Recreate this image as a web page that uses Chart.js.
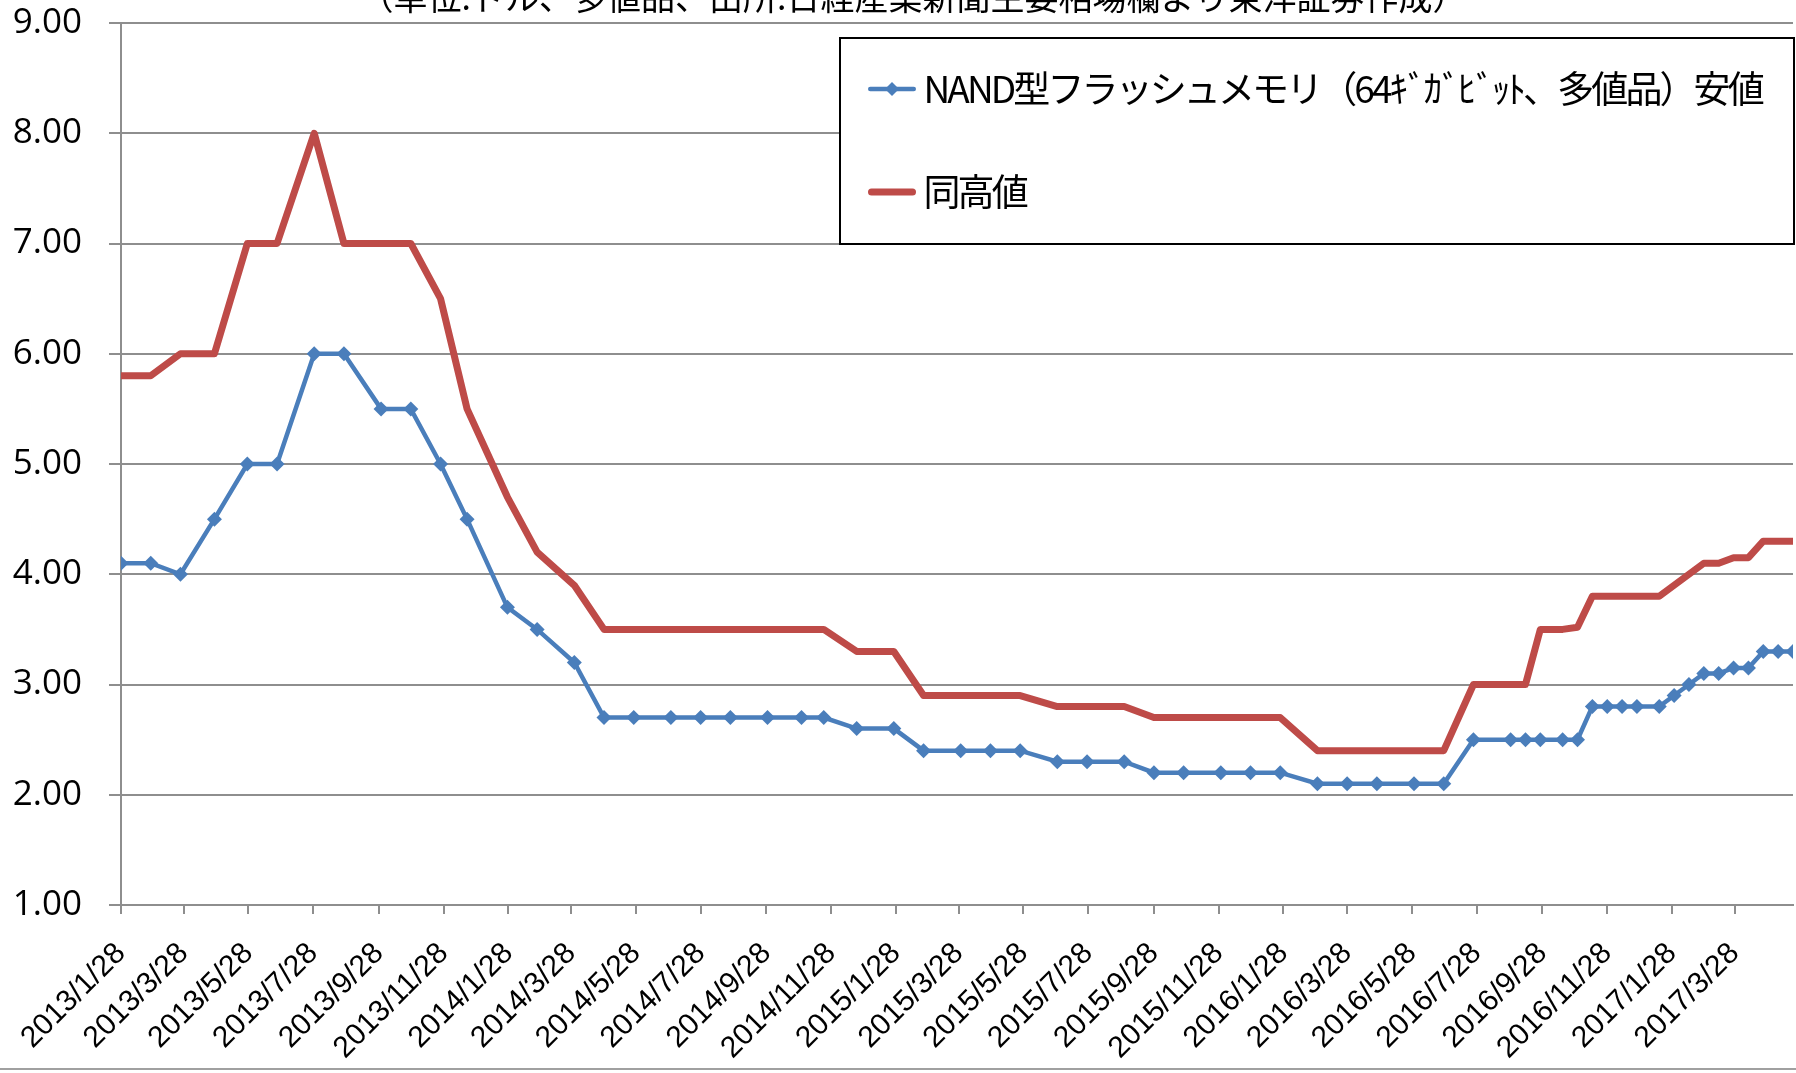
<!DOCTYPE html>
<html lang="ja">
<head>
<meta charset="UTF-8">
<title>NAND型フラッシュメモリ価格</title>
<script src="https://cdn.jsdelivr.net/npm/chart.js@4.4.1/dist/chart.umd.min.js"></script>
<style>
  html, body { margin: 0; padding: 0; background: #fff; }
  #wrap { width: 1796px; height: 1073px; }
</style>
</head>
<body>
<div id="wrap"><canvas id="nandChart" width="1796" height="1073"></canvas></div>
<script>
// 掲載日
const dates = [
  '2013/1/28', '2013/2/25', '2013/3/25', '2013/4/26', '2013/5/27', '2013/6/24',
  '2013/7/29', '2013/8/26', '2013/9/30', '2013/10/28', '2013/11/25', '2013/12/20',
  '2014/1/27', '2014/2/24', '2014/3/31', '2014/4/28', '2014/5/26', '2014/6/30',
  '2014/7/28', '2014/8/25', '2014/9/29', '2014/10/31', '2014/11/21', '2014/12/22',
  '2015/1/26', '2015/2/23', '2015/3/30', '2015/4/27', '2015/5/25', '2015/6/29',
  '2015/7/27', '2015/8/31', '2015/9/28', '2015/10/26', '2015/11/30', '2015/12/28',
  '2016/1/25', '2016/2/29', '2016/3/28', '2016/4/25', '2016/5/30', '2016/6/27',
  '2016/7/25', '2016/8/29', '2016/9/12', '2016/9/26', '2016/10/17', '2016/10/31',
  '2016/11/14', '2016/11/28', '2016/12/12', '2016/12/26',
  '2017/1/16', '2017/1/30', '2017/2/13', '2017/2/27', '2017/3/13', '2017/3/27',
  '2017/4/10', '2017/4/24', '2017/5/8', '2017/5/22'
];

// 安値（ドル）
const lowPrice = [
  4.1, 4.1, 4.0, 4.5, 5.0, 5.0, 6.0, 6.0, 5.5, 5.5, 5.0, 4.5,
  3.7, 3.5, 3.2, 2.7, 2.7, 2.7, 2.7, 2.7, 2.7, 2.7, 2.7, 2.6,
  2.6, 2.4, 2.4, 2.4, 2.4, 2.3, 2.3, 2.3, 2.2, 2.2, 2.2, 2.2,
  2.2, 2.1, 2.1, 2.1, 2.1, 2.1, 2.5, 2.5, 2.5, 2.5, 2.5, 2.5,
  2.8, 2.8, 2.8, 2.8,
  2.8, 2.9, 3.0, 3.1, 3.1, 3.15, 3.15, 3.3, 3.3, 3.3
];

// 高値（ドル）
const highPrice = [
  5.8, 5.8, 6.0, 6.0, 7.0, 7.0, 8.0, 7.0, 7.0, 7.0, 6.5, 5.5,
  4.7, 4.2, 3.9, 3.5, 3.5, 3.5, 3.5, 3.5, 3.5, 3.5, 3.5, 3.3,
  3.3, 2.9, 2.9, 2.9, 2.9, 2.8, 2.8, 2.8, 2.7, 2.7, 2.7, 2.7,
  2.7, 2.4, 2.4, 2.4, 2.4, 2.4, 3.0, 3.0, 3.0, 3.5, 3.5, 3.52,
  3.8, 3.8, 3.8, 3.8,
  3.8, 3.9, 4.0, 4.1, 4.1, 4.15, 4.15, 4.3, 4.3, 4.3
];

// 横軸の目盛（2か月ごと）
const tickDates = [
  '2013/1/28', '2013/3/28', '2013/5/28', '2013/7/28', '2013/9/28', '2013/11/28',
  '2014/1/28', '2014/3/28', '2014/5/28', '2014/7/28', '2014/9/28', '2014/11/28',
  '2015/1/28', '2015/3/28', '2015/5/28', '2015/7/28', '2015/9/28', '2015/11/28',
  '2016/1/28', '2016/3/28', '2016/5/28', '2016/7/28', '2016/9/28', '2016/11/28',
  '2017/1/28', '2017/3/28'
];

const seriesNames = ['NAND型フラッシュメモリ（64ｷﾞｶﾞﾋﾞｯﾄ、多値品）安値', '同高値'];
const titleText = '（単位:ドル、多値品、出所:日経産業新聞主要相場欄より東洋証券作成）';

const BLUE = '#4a7ebb';
const RED = '#be4b48';
const GRID = '#8e8e8e';

// 日付 -> 2013/1/28 からの日数
function toDay(s) {
  const [y, m, d] = s.split('/').map(Number);
  return (Date.UTC(y, m - 1, d) - Date.UTC(2013, 0, 28)) / 86400000;
}

// 凡例の記号（線＋マーカー）
function legendSymbol(color, lineW, marker) {
  const c = document.createElement('canvas');
  c.width = 48;
  c.height = 18;
  const g = c.getContext('2d');
  g.strokeStyle = color;
  g.lineWidth = lineW;
  g.lineCap = 'round';
  g.beginPath();
  g.moveTo(lineW / 2, 9);
  g.lineTo(48 - lineW / 2, 9);
  g.stroke();
  if (marker) {
    g.fillStyle = color;
    g.beginPath();
    g.moveTo(24, 2);
    g.lineTo(31, 9);
    g.lineTo(24, 16);
    g.lineTo(17, 9);
    g.closePath();
    g.fill();
  }
  return c;
}
const symbols = [legendSymbol(BLUE, 4.5, true), legendSymbol(RED, 7, false)];

const legendFrame = { left: 840, top: 38, right: 1794, bottom: 244 };

// 凡例をグラフ内の枠に配置し、枠ごと最前面に描く
const legendPlacer = {
  id: 'legendPlacer',
  beforeDraw(chart) {
    const lg = chart.legend;
    const pad = lg.options.labels.padding;
    const fs = lg.options.labels.font.size;
    lg.left = 892 - 13 - pad;
    lg.top = 89 - fs / 2 - pad;
    lg.right = legendFrame.right;
    lg.bottom = chart.chartArea.bottom;
  },
  afterDraw(chart) {
    const ctx = chart.ctx;
    const f = legendFrame;
    ctx.save();
    ctx.fillStyle = '#fff';
    ctx.fillRect(f.left, f.top, f.right - f.left, f.bottom - f.top);
    ctx.strokeStyle = '#000';
    ctx.lineWidth = 2;
    ctx.strokeRect(f.left, f.top, f.right - f.left, f.bottom - f.top);
    // 詰め組み相当の字間
    ctx.letterSpacing = '-2.9px';
    chart.legend.draw();
    ctx.letterSpacing = '0px';
    ctx.restore();

    // 上端で切れている注記
    ctx.save();
    ctx.fillStyle = '#000';
    ctx.font = '34px "Noto Sans CJK JP"';
    ctx.textAlign = 'center';
    ctx.textBaseline = 'alphabetic';
    ctx.fillText(titleText, 913, 10);
    // 下端の枠線
    ctx.fillStyle = '#a0a0a0';
    ctx.fillRect(0, 1068, chart.width, 2);
    ctx.restore();
  }
};

const ctx = document.getElementById('nandChart').getContext('2d');
new Chart(ctx, {
  type: 'line',
  data: {
    datasets: [{
      label: seriesNames[0],
      data: dates.map((d, i) => ({ x: toDay(d), y: lowPrice[i] })),
      borderColor: BLUE,
      backgroundColor: BLUE,
      borderWidth: 4.5,
      pointStyle: 'rectRot',
      pointRadius: 7.5,
      pointBorderWidth: 0,
      pointBackgroundColor: BLUE,
      tension: 0,
      order: 1
    }, {
      label: seriesNames[1],
      data: dates.map((d, i) => ({ x: toDay(d), y: highPrice[i] })),
      borderColor: RED,
      backgroundColor: RED,
      borderWidth: 7,
      borderJoinStyle: 'round',
      pointRadius: 0,
      tension: 0,
      order: 2
    }]
  },
  options: {
    responsive: false,
    animation: false,
    layout: { autoPadding: false, padding: { top: 23, right: 3, left: 0, bottom: 0 } },
    plugins: {
      title: { display: false },
      tooltip: { enabled: false },
      legend: {
        position: 'chartArea',
        align: 'start',
        labels: {
          color: '#000',
          font: { family: '"Noto Sans CJK JP"', size: 37 },
          padding: 66,
          usePointStyle: true,
          pointStyleWidth: 26,
          generateLabels(chart) {
            const items = Chart.defaults.plugins.legend.labels.generateLabels(chart);
            items.forEach((it, i) => { it.pointStyle = symbols[i]; });
            return items;
          }
        }
      }
    },
    scales: {
      x: {
        type: 'linear',
        min: 0,
        max: toDay(dates[dates.length - 1]),
        afterBuildTicks(scale) {
          scale.ticks = tickDates.map(d => ({ value: toDay(d) }));
        },
        afterFit(scale) {
          scale.height = 168;
          scale.paddingLeft = 0;
          scale.paddingRight = 0;
        },
        ticks: {
          autoSkip: false,
          minRotation: 45,
          maxRotation: 45,
          padding: 22,
          color: '#000',
          font: { family: '"Liberation Sans"', size: 30 },
          callback: (v, i) => tickDates[i]
        },
        grid: {
          drawOnChartArea: false,
          drawTicks: true,
          tickLength: 9,
          color: GRID,
          lineWidth: 2
        },
        border: { color: GRID, width: 2 }
      },
      y: {
        min: 1,
        max: 9,
        afterFit(scale) {
          scale.width = 121;
          scale.paddingTop = 0;
          scale.paddingBottom = 0;
        },
        ticks: {
          stepSize: 1,
          padding: 27,
          color: '#000',
          font: { family: '"Open Sans"', size: 35 },
          callback: v => v.toFixed(2)
        },
        grid: { color: GRID, lineWidth: 2, tickLength: 12 },
        border: { color: GRID, width: 2 }
      }
    }
  },
  plugins: [legendPlacer]
});
</script>
</body>
</html>
